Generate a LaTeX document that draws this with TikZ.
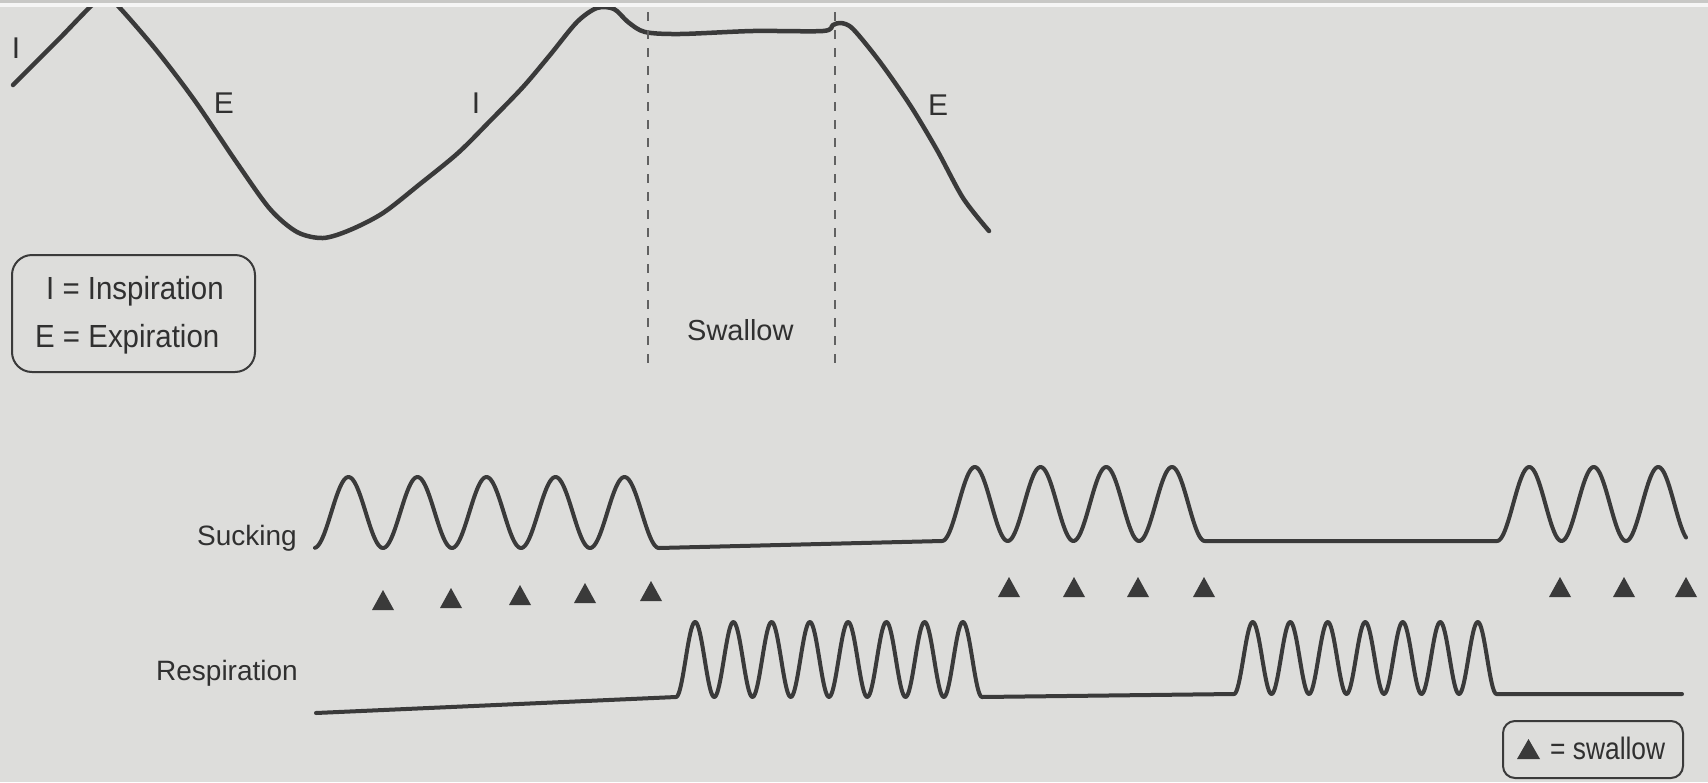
\documentclass[tikz,border=0pt]{standalone}
\usepackage{fontspec}
\setmainfont{Liberation Sans}
\newfontfamily\legfont[FakeStretch=0.92]{Liberation Sans}
\newfontfamily\swfont[FakeStretch=0.85]{Liberation Sans}
\definecolor{bg}{RGB}{221,221,219}
\definecolor{bgtop}{RGB}{200,200,198}
\definecolor{ink}{RGB}{58,58,58}
\definecolor{txt}{RGB}{48,48,48}
\begin{document}
\begin{tikzpicture}[x=1pt,y=-1pt,
  lbl/.style={text=txt,inner sep=0pt,font=\fontsize{28}{34}\selectfont},
  toplbl/.style={text=txt,inner sep=0pt,font=\fontsize{30}{36}\selectfont},
  leg/.style={text=txt,inner sep=0pt,font=\legfont\fontsize{32}{38}\selectfont},
  curve/.style={draw=ink,line width=4.5pt,line cap=round,line join=round},
  wave/.style={draw=ink,line width=4pt,line cap=round,line join=round},
  guide/.style={draw=ink!80,line width=1.3pt,dash pattern=on 9pt off 9pt},
  legbox/.style={draw=ink,line width=2pt,inner sep=0pt},
  tri/.style={fill=ink}]
\useasboundingbox (0,0) rectangle (1708,782);
\fill[bg] (0,0) rectangle (1708,782);
\fill[bgtop] (0,0) rectangle (1708,3);
\fill[white!92!gray] (0,3) rectangle (1708,7);

% top breathing curve
\begin{scope}
\clip (0,7) rectangle (1708,400);
\draw[curve] plot[smooth,tension=0.5] coordinates {
 (13,85) (58,40) (104,-5) (119,7) (157,51) (195,101) (237,163) (270,209)
 (297,232) (323,238) (350,230) (383,213) (420,184) (458,153) (490,121)
 (523,87) (550,55) (577,22) (597,8) (614,9) (628,22) (645,32) (680,34) (753,31)
 (823,31) (833,25) (841,23) (853,29) (880,62) (910,105) (937,150) (963,198) (989,231)};
\end{scope}

% swallow guides
\coordinate (g1t) at (648,12); \coordinate (g1b) at (648,367);
\coordinate (g2t) at (835,12); \coordinate (g2b) at (835,367);
\draw[guide] (g1t) -- (g1b);
\draw[guide] (g2t) -- (g2b);

\node[toplbl,anchor=base] (i1) at (16,58) {I};
\node[toplbl,anchor=base] (e1) at (224,113) {E};
\node[toplbl,anchor=base] (i2) at (476,113) {I};
\node[toplbl,anchor=base] (e2) at (938,115) {E};
\node[lbl,anchor=base west,font=\fontsize{29}{34}\selectfont] (swl) at (687,340) {Swallow};

% legend I/E
\node[legbox,rounded corners=20pt,minimum width=243pt,minimum height=117pt] (legIE) at (133.5,313.5) {};
\node[leg,anchor=base west] (legI) at (46,299) {I = Inspiration};
\node[leg,anchor=base west] (legE) at (35,347) {E = Expiration};

% labels
\node[lbl,anchor=base east] (suck) at (297,545) {Sucking};
\node[lbl,anchor=base east] (resp) at (298,680) {Respiration};

% sucking trace
\draw[wave] plot[domain=315:659,samples=260] (\x,{548-35.5*(1-cos(5.21739*(\x-314)))})
  -- (942,541)
  -- plot[domain=942:1204.8,samples=200] (\x,{541-37*(1-cos(5.47945*(\x-942)))})
  -- (1497,541)
  -- plot[domain=1497:1686,samples=160] (\x,{541-37*(1-cos(5.5814*(\x-1497)))});

% respiration trace
\draw[wave] (316,713) -- (676,697)
  -- plot[domain=676:982,samples=320] (\x,{697-37.5*(1-cos(9.41176*(\x-676)))})
  -- (1234,694)
  -- plot[domain=1234:1496.5,samples=280] (\x,{694-36*(1-cos(9.6*(\x-1234)))})
  -- (1682,694);

% swallow markers
\foreach \tx/\ty in {383/600,451/598,520/595,585/593,651/591,
                     1009/587,1074/587,1138/587,1204/587,
                     1560/587,1624/587,1686/587}
  \fill[tri] ({\tx-11},{\ty+10}) -- ({\tx+11},{\ty+10}) -- (\tx,{\ty-10}) -- cycle;

% swallow legend
\node[legbox,rounded corners=12pt,minimum width=180pt,minimum height=57pt] (legS) at (1593,749.5) {};
\fill[tri] (1517,759) -- (1540,759) -- (1528.5,739) -- cycle;
\node[text=txt,inner sep=0pt,anchor=base west,font=\swfont\fontsize{31}{36}\selectfont] (legSt) at (1550,759) {= swallow};
\end{tikzpicture}
\end{document}
